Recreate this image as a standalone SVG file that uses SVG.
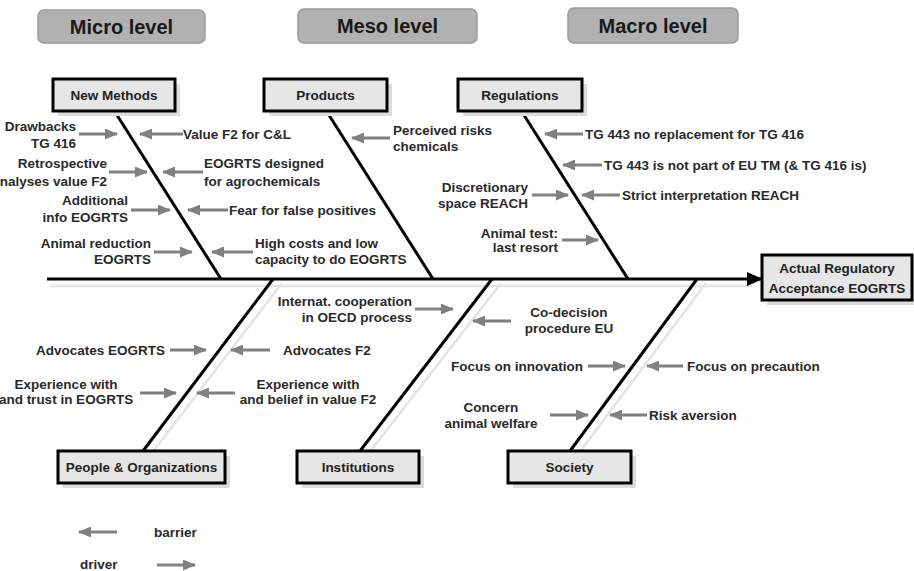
<svg xmlns="http://www.w3.org/2000/svg" width="914" height="571" viewBox="0 0 914 571">
  <defs>
    <marker id="head-gray" markerUnits="userSpaceOnUse" markerWidth="13" markerHeight="11" refX="12" refY="5.5" orient="auto">
      <path d="M0,0 L13,5.5 L0,11 z" fill="#808080"/>
    </marker>
    <marker id="head-black" markerUnits="userSpaceOnUse" markerWidth="16" markerHeight="14" refX="15" refY="7" orient="auto">
      <path d="M0,0 L16,7 L0,14 z" fill="#000"/>
    </marker>
  </defs>
  <style>
    .level rect { fill: #b1b1b1; stroke: #9a9a9a; stroke-width: 1.5; }
    .level text { font-family: "Liberation Sans", Arial, sans-serif; font-weight: bold; font-size: 20px; fill: #1a1a1a; text-anchor: middle; }
    .cat .shadow { fill: #dcdcdc; }
    .cat .box { fill: #e6e6e6; stroke: #000; stroke-width: 3; }
    .cat text { font-family: "Liberation Sans", Arial, sans-serif; font-weight: bold; font-size: 13.5px; fill: #222; text-anchor: middle; }
    .bone { stroke: #000; stroke-width: 3; fill: none; }
    .bone-shadow { stroke: #e4e4e4; stroke-width: 2.5; fill: none; }
    .arrow { stroke: #808080; stroke-width: 3; fill: none; marker-end: url(#head-gray); }
    .lbl { font-family: "Liberation Sans", Arial, sans-serif; font-weight: bold; font-size: 13.5px; fill: #2a2a2a; }
    .r { text-anchor: end; }
    .m { text-anchor: middle; }
  </style>

  <rect width="914" height="571" fill="#fff"/>

  <!-- level headers -->
  <g id="micro-level" class="level">
    <rect x="38" y="10" width="167" height="33" rx="6"/>
    <text x="121.5" y="33.5">Micro level</text>
  </g>
  <g id="meso-level" class="level">
    <rect x="298" y="9" width="179" height="34" rx="6"/>
    <text x="387.5" y="33">Meso level</text>
  </g>
  <g id="macro-level" class="level">
    <rect x="568" y="8" width="170" height="35" rx="6"/>
    <text x="653" y="32.5">Macro level</text>
  </g>

  <!-- spine, bones and cause arrows -->
  <g id="connectors">
    <line class="bone-shadow" x1="50" y1="286" x2="752" y2="286"/>
    <line class="bone-shadow" x1="282" y1="283" x2="152" y2="453"/>
    <line class="bone-shadow" x1="501" y1="283" x2="369" y2="453"/>
    <line class="bone-shadow" x1="706" y1="283" x2="579" y2="453"/>

    <line class="bone" x1="47" y1="279" x2="762" y2="279" stroke-width="3.5" marker-end="url(#head-black)"/>
    <line class="bone" x1="115" y1="112" x2="221" y2="279"/>
    <line class="bone" x1="327" y1="112" x2="433" y2="279"/>
    <line class="bone" x1="522" y1="112" x2="628" y2="279"/>
    <line class="bone" x1="273" y1="279" x2="143" y2="451"/>
    <line class="bone" x1="492" y1="279" x2="360" y2="451"/>
    <line class="bone" x1="697" y1="279" x2="570" y2="451"/>

    <!-- drivers -->
    <line class="arrow" x1="79" y1="134" x2="117" y2="134"/>
    <line class="arrow" x1="109" y1="172" x2="147" y2="172"/>
    <line class="arrow" x1="131" y1="210" x2="170" y2="210"/>
    <line class="arrow" x1="154" y1="252" x2="192" y2="252"/>
    <line class="arrow" x1="532" y1="195" x2="568" y2="195"/>
    <line class="arrow" x1="562" y1="240" x2="598" y2="240"/>
    <line class="arrow" x1="170" y1="350" x2="206" y2="350"/>
    <line class="arrow" x1="140" y1="393" x2="176" y2="393"/>
    <line class="arrow" x1="415" y1="309" x2="453" y2="309"/>
    <line class="arrow" x1="588" y1="366" x2="625" y2="366"/>
    <line class="arrow" x1="550" y1="415" x2="588" y2="415"/>

    <!-- barriers -->
    <line class="arrow" x1="183" y1="134" x2="140" y2="134"/>
    <line class="arrow" x1="203" y1="172" x2="163" y2="172"/>
    <line class="arrow" x1="228" y1="210" x2="188" y2="210"/>
    <line class="arrow" x1="253" y1="252" x2="212" y2="252"/>
    <line class="arrow" x1="390" y1="138" x2="352" y2="138"/>
    <line class="arrow" x1="583" y1="134" x2="545" y2="134"/>
    <line class="arrow" x1="602" y1="165" x2="563" y2="165"/>
    <line class="arrow" x1="620" y1="195" x2="582" y2="195"/>
    <line class="arrow" x1="270" y1="350" x2="231" y2="350"/>
    <line class="arrow" x1="235" y1="393" x2="197" y2="393"/>
    <line class="arrow" x1="511" y1="321" x2="473" y2="321"/>
    <line class="arrow" x1="683" y1="366" x2="647" y2="366"/>
    <line class="arrow" x1="647" y1="415" x2="610" y2="415"/>

    <!-- legend arrows -->
    <line class="arrow" x1="117" y1="532" x2="79" y2="532"/>
    <line class="arrow" x1="157" y1="565" x2="195" y2="565"/>
  </g>

  <!-- category boxes -->
  <g id="new-methods" class="cat">
    <rect class="shadow" x="58" y="84" width="122" height="32"/>
    <rect class="box" x="53" y="79" width="122" height="32"/>
    <text x="114" y="100">New Methods</text>
  </g>
  <g id="products" class="cat">
    <rect class="shadow" x="269" y="84" width="123" height="32"/>
    <rect class="box" x="264" y="79" width="123" height="32"/>
    <text x="325.5" y="100">Products</text>
  </g>
  <g id="regulations" class="cat">
    <rect class="shadow" x="463" y="84" width="124" height="32"/>
    <rect class="box" x="458" y="79" width="124" height="32"/>
    <text x="520" y="100">Regulations</text>
  </g>
  <g id="people-organizations" class="cat">
    <rect class="shadow" x="63" y="456" width="167" height="32"/>
    <rect class="box" x="58" y="451" width="167" height="32"/>
    <text x="141.5" y="472">People &amp; Organizations</text>
  </g>
  <g id="institutions" class="cat">
    <rect class="shadow" x="302" y="456" width="122" height="32"/>
    <rect class="box" x="297" y="451" width="122" height="32"/>
    <text x="358" y="472">Institutions</text>
  </g>
  <g id="society" class="cat">
    <rect class="shadow" x="513" y="456" width="123" height="32"/>
    <rect class="box" x="508" y="451" width="123" height="32"/>
    <text x="569.5" y="472">Society</text>
  </g>
  <g id="acceptance" class="cat">
    <rect class="shadow" x="767" y="260" width="150" height="45"/>
    <rect class="box" x="762" y="255" width="150" height="45"/>
    <text x="837" y="273">Actual Regulatory</text>
    <text x="837" y="293">Acceptance EOGRTS</text>
  </g>

  <!-- cause labels -->
  <g id="labels-new-methods">
    <text class="lbl r" x="76" y="131">Drawbacks</text>
    <text class="lbl r" x="76" y="148">TG 416</text>
    <text class="lbl" x="183" y="139">Value F2 for C&amp;L</text>
    <text class="lbl r" x="107" y="168">Retrospective</text>
    <text class="lbl r" x="107" y="186">analyses value F2</text>
    <text class="lbl" x="204" y="168">EOGRTS designed</text>
    <text class="lbl" x="204" y="186">for agrochemicals</text>
    <text class="lbl r" x="128" y="205">Additional</text>
    <text class="lbl r" x="128" y="222">info EOGRTS</text>
    <text class="lbl" x="229" y="215">Fear for false positives</text>
    <text class="lbl r" x="151" y="248">Animal reduction</text>
    <text class="lbl r" x="151" y="264">EOGRTS</text>
    <text class="lbl" x="255" y="248">High costs and low</text>
    <text class="lbl" x="255" y="264">capacity to do EOGRTS</text>
  </g>
  <g id="labels-products">
    <text class="lbl" x="393" y="135">Perceived risks</text>
    <text class="lbl" x="393" y="151">chemicals</text>
  </g>
  <g id="labels-regulations">
    <text class="lbl" x="585" y="139">TG 443 no replacement for TG 416</text>
    <text class="lbl" x="604" y="170">TG 443 is not part of EU TM (&amp; TG 416 is)</text>
    <text class="lbl r" x="528" y="192">Discretionary</text>
    <text class="lbl r" x="528" y="208">space REACH</text>
    <text class="lbl" x="622" y="200">Strict interpretation REACH</text>
    <text class="lbl r" x="558" y="238">Animal test:</text>
    <text class="lbl r" x="558" y="252">last resort</text>
  </g>
  <g id="labels-people">
    <text class="lbl r" x="165" y="355">Advocates EOGRTS</text>
    <text class="lbl" x="283" y="355">Advocates F2</text>
    <text class="lbl m" x="66" y="389">Experience with</text>
    <text class="lbl m" x="66" y="404">and trust in EOGRTS</text>
    <text class="lbl m" x="308" y="389">Experience with</text>
    <text class="lbl m" x="308" y="404">and belief in value F2</text>
  </g>
  <g id="labels-institutions">
    <text class="lbl r" x="412" y="306">Internat. cooperation</text>
    <text class="lbl r" x="412" y="322">in OECD process</text>
    <text class="lbl m" x="569" y="317">Co-decision</text>
    <text class="lbl m" x="569" y="333">procedure EU</text>
  </g>
  <g id="labels-society">
    <text class="lbl r" x="583" y="371">Focus on innovation</text>
    <text class="lbl" x="687" y="371">Focus on precaution</text>
    <text class="lbl m" x="491" y="412">Concern</text>
    <text class="lbl m" x="491" y="428">animal welfare</text>
    <text class="lbl" x="649" y="420">Risk aversion</text>
  </g>

  <!-- legend -->
  <g id="legend">
    <text class="lbl" x="154" y="537">barrier</text>
    <text class="lbl" x="80" y="569">driver</text>
  </g>
</svg>
